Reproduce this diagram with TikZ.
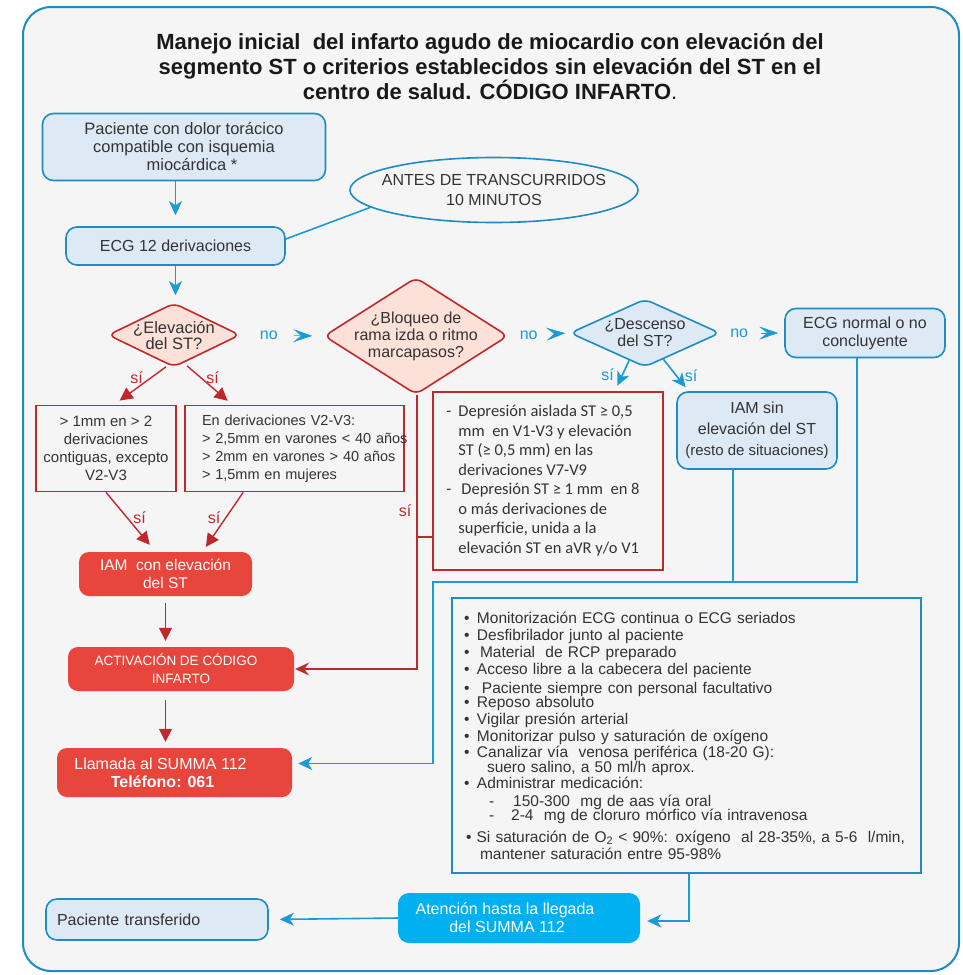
\documentclass[tikz,border=0pt]{standalone}
\usepackage{fontspec}
\setmainfont{Liberation Sans}
\newfontfamily\calibrifont{Carlito}
\usepackage{xcolor}
\definecolor{colBg}{HTML}{F5F5F5}
\definecolor{colBlue}{HTML}{1E8BC3}
\definecolor{colBlueFill}{HTML}{DDEAF6}
\definecolor{colArrow}{HTML}{1A9AD6}
\definecolor{colRed}{HTML}{C0282E}
\definecolor{colSalmon}{HTML}{FBE1D7}
\definecolor{colRedFill}{HTML}{E8453C}
\definecolor{colCyan}{HTML}{00B0F0}
\definecolor{colText}{HTML}{333333}
\usepackage{tikz}
\usetikzlibrary{arrows.meta, shapes.geometric}
\newcommand{\itemdot}{\makebox[13pt][l]{\textbullet}}

\begin{document}
\begin{tikzpicture}[x=1pt, y=-1pt,
    every node/.style={font=\fontsize{16}{18}\selectfont, text=colText, align=center, inner sep=0pt},
    bluebox/.style={draw=colBlue, line width=1.6pt, fill=colBlueFill, rounded corners=11pt},
    redbox/.style={draw=colRed, line width=1.6pt, fill=colBg},
    redfill/.style={fill=colRedFill, rounded corners=10pt, text=white},
    reddiam/.style={diamond, draw=colRed, line width=1.6pt, fill=colSalmon, rounded corners=7pt, inner sep=-30pt},
    bluediam/.style={diamond, draw=colBlue, line width=1.6pt, fill=colBlueFill, rounded corners=7pt, inner sep=-30pt},
    blueline/.style={draw=colArrow, line width=1.6pt},
    bluearrow/.style={blueline, -{Stealth[length=14pt,width=13pt,inset=4pt]}},
    redline/.style={draw=colRed, line width=1.4pt},
    redarrow/.style={redline, -{Triangle[length=13pt,width=13pt]}},
    noarrow/.style={draw=colArrow, line width=0.5pt, -{Stealth[length=19pt,width=13pt,inset=8pt]}},
    nolabel/.style={text=colArrow},
    silabel/.style={text=colRed}]
  \useasboundingbox (0,0) rectangle (962,975);
  \draw[draw=colBlue, fill=colBg, line width=2pt, rounded corners=28pt] (23,7) rectangle (959,971);

  % title
  \node[font=\bfseries\fontsize{22}{25}\selectfont, text=black!90] (title) at (490,67)
    {Manejo inicial \ del infarto agudo de miocardio con elevación del\\segmento ST o criterios establecidos sin elevación del ST en el\\centro de salud. CÓDIGO INFARTO\textmd{.}};

  % left column
  \node[bluebox, minimum width=283, minimum height=67, font=\fontsize{16.5}{18}\selectfont] (pac) at (184,147)
    {Paciente con dolor torácico\\compatible con isquemia\\\hspace*{16pt}miocárdica *};
  \node[bluebox, minimum width=219, minimum height=38] (ecg) at (175.5,246) {ECG 12 derivaciones};
  \node[ellipse, draw=colBlue, line width=1.6pt, fill=colBg, inner sep=-30pt, minimum width=288, minimum height=65] (antes) at (494,190)
    {ANTES DE TRANSCURRIDOS\\[2pt]10 MINUTOS};
  \node[reddiam, minimum width=132, minimum height=64, font=\fontsize{16.5}{16}\selectfont] (elev) at (174,335)
    {¿Elevación\\del ST?};
  \node[reddiam, minimum width=184, minimum height=117, font=\fontsize{16}{17}\selectfont] (bloq) at (416,336)
    {¿Bloqueo de\\rama izda o ritmo\\marcapasos?};
  \node[bluediam, minimum width=150, minimum height=68, font=\fontsize{16}{17}\selectfont] (desc) at (645,333)
    {¿Descenso\\del ST?};
  \node[bluebox, minimum width=160, minimum height=49] (normal) at (865,333) {ECG normal o no\\concluyente};

  % criteria boxes
  \node[redbox, minimum width=140, minimum height=86, font=\fontsize{15}{18}\selectfont] (critA) at (106,448.5)
    {> 1mm en > 2\\derivaciones\\contiguas, excepto\\V2-V3};
  \node[redbox, minimum width=219, minimum height=86, text width=185, align=left, font=\fontsize{14.5}{18}\selectfont] (critB) at (294.5,448.5)
    {En derivaciones V2-V3:\\\mbox{> 2,5mm en varones < 40 años}\\\mbox{> 2mm en varones > 40 años}\\> 1,5mm en mujeres};
  \node[redbox, minimum width=230, minimum height=178, font=\calibrifont\fontsize{16.5}{19.5}\selectfont] (critC) at (548,481)
    {\begin{tabular}{@{}l@{\hspace{7pt}}l@{}}
      - & Depresión aislada ST ≥ 0,5\\
        & mm \ en V1-V3 y elevación\\
        & ST (≥ 0,5 mm) en las\\
        & derivaciones V7-V9\\
      - & \hspace{3pt}Depresión ST ≥ 1 mm \ en 8\\
        & o más derivaciones de\\
        & superficie, unida a la\\
        & elevación ST en aVR y/o V1
    \end{tabular}\hspace*{10pt}};
  \node[bluebox, minimum width=160, minimum height=77, font=\fontsize{16}{21}\selectfont] (iamsin) at (757,430.5)
    {IAM sin\\elevación del ST\\{\fontsize{15}{18}\selectfont(resto de situaciones)}};

  % red column
  \node[redfill, minimum width=173, minimum height=44, font=\fontsize{15.5}{18}\selectfont] (iamST) at (165.5,574)
    {IAM \ con elevación\\del ST};
  \node[redfill, minimum width=226, minimum height=44, font=\fontsize{13.5}{18}\selectfont] (act) at (181,669)
    {ACTIVACIÓN DE CÓDIGO\hspace*{10pt}\\INFARTO};
  \node[redfill, minimum width=235, minimum height=49] (llam) at (174.5,772.5)
    {Llamada al SUMMA 112\hspace*{28pt}\\\textbf{Teléfono: 061}\hspace*{24pt}};

  % care box
  \node[draw=colBlue, line width=1.6pt, fill=colBg, minimum width=469, minimum height=275, text width=445, inner xsep=12pt,
        align=left, font=\fontsize{15.5}{17}\selectfont] (cuid) at (686.5,735.5)
    {\itemdot Monitorización ECG continua o ECG seriados\\
     \itemdot Desfibrilador junto al paciente\\
     \itemdot\hspace*{3pt}Material \ de RCP preparado\\
     \itemdot Acceso libre a la cabecera del paciente\\[2pt]
     \itemdot\hspace*{5pt}Paciente siempre con personal facultativo\\[-3pt]
     \itemdot Reposo absoluto\\
     \itemdot Vigilar presión arterial\\
     \itemdot Monitorizar pulso y saturación de oxígeno\\[-1pt]
     \itemdot Canalizar vía \ venosa periférica (18-20 G):\\[-2pt]
     \hspace*{23pt}suero salino, a 50 ml/h aprox.\\[-1pt]
     \itemdot Administrar medicación:\\[1pt]
     \hspace*{25pt}-\hspace*{19pt}150-300 \ mg de aas vía oral\\[-3pt]
     \hspace*{25pt}-\hspace*{17pt}2-4 \ mg de cloruro mórfico vía intravenosa\\[5pt]
     \hspace*{2pt}\textbullet\ Si saturación de O\textsubscript{2} < 90\%: oxígeno \ al 28-35\%, a 5-6 \ l/min,\\
     \hspace*{16pt}mantener saturación entre 95-98\%};

  % bottom row
  \node[fill=colCyan, rounded corners=11pt, text=white, minimum width=242, minimum height=50] (atenc) at (519,918)
    {Atención hasta la llegada\hspace*{28pt}\\del SUMMA 112\hspace*{24pt}};
  \node[bluebox, minimum width=222, minimum height=41, text width=200, inner xsep=11pt, align=left] (ptr) at (157,919.5)
    {Paciente transferido};
  \coordinate (jL) at (433,582);
  \coordinate (jC) at (417,537);

  % connectors
  \draw[bluearrow, shorten >=11pt] (pac.south -| ecg.north) -- (ecg.north);
  \draw[bluearrow, shorten >=7pt] (ecg.south) -- (ecg.south |- elev.north);
  \draw[blueline] ([yshift=7pt]ecg.east) -- (antes.188);
  \draw[noarrow, shorten <=53pt, shorten >=11pt] (elev.east) -- node[pos=.34, nolabel] {no} (bloq.west);
  \draw[noarrow, shorten <=44pt, shorten >=4pt] (bloq.east) -- node[pos=.33, nolabel] {no} (desc.west);
  \draw[noarrow, shorten <=40pt, shorten >=6pt] (desc.east) -- node[pos=.29, nolabel] {no} (normal.west);
  \draw[redarrow, shorten >=7pt] ([xshift=-8pt,yshift=1pt]elev.south) -- node[pos=.3, left=7pt, silabel] {sí} ([xshift=8pt]critA.north);
  \draw[redarrow, shorten >=6pt] ([xshift=13pt,yshift=2pt]elev.south) -- node[pos=.3, right=5pt, silabel] {sí} ([xshift=48pt]critB.north west);
  \draw[redarrow, shorten >=9pt] (critA.south) -- node[pos=.42, right=6pt, silabel] {sí} ([xshift=-10pt]iamST.north);
  \draw[redarrow, shorten >=6pt] ([xshift=59pt]critB.south west) -- node[pos=.42, left=5pt, silabel] {sí} ([xshift=37pt]iamST.north);
  \draw[redarrow, shorten <=7pt, shorten >=6pt] (iamST.south) -- (iamST.south |- act.north);
  \draw[redarrow, shorten <=9pt, shorten >=6pt] (iamST.south |- act.south) -- (iamST.south |- llam.north);
  \draw[redline, -{Stealth[length=14pt,width=13pt,inset=5pt]}, shorten >=1pt] (bloq.south -| jC) |- node[pos=.21, left=5pt, silabel] {sí} (act.east);
  \draw[redline] (jC) -- (jC -| critC.west);
  \draw[bluearrow, shorten >=6pt] (desc.-120) -- node[pos=.45, left=8pt, nolabel] {sí} ([xshift=-49pt]critC.north east);
  \draw[bluearrow, shorten >=5pt] (desc.-55) -- node[pos=.5, right=8pt, nolabel] {sí} ([xshift=12.5pt]iamsin.north west);
  \draw[blueline] ([xshift=-24pt]iamsin.south) |- (jL);
  \draw[bluearrow, shorten >=6pt] ([xshift=-8pt]normal.south) |- (jL) |- ([yshift=9pt]llam.east);
  \draw[bluearrow, shorten >=7pt] ([xshift=2.5pt]cuid.south) |- ([yshift=-3pt]atenc.east);
  \draw[bluearrow, shorten >=11pt] (atenc.west) -- (ptr.east);
\end{tikzpicture}
\end{document}
